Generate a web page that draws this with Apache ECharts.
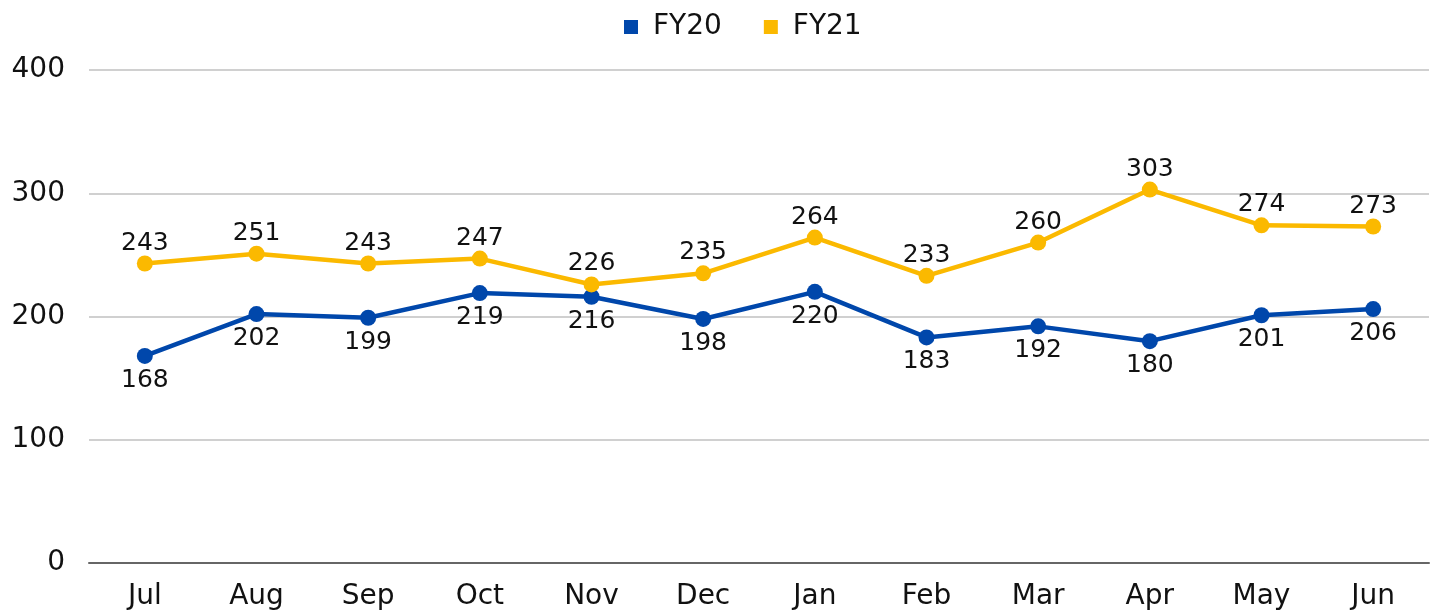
<!DOCTYPE html>
<html>
<head>
<meta charset="utf-8">
<script src="https://cdn.jsdelivr.net/npm/echarts@6/dist/echarts.min.js"></script>
<style>
  html, body { margin: 0; padding: 0; background: #fff; }
  #chart { width: 1435px; height: 611px; }
</style>
</head>
<body>
<div id="chart"></div>
<script>
// months on the x axis
var months = ['Jul', 'Aug', 'Sep', 'Oct', 'Nov', 'Dec', 'Jan', 'Feb', 'Mar', 'Apr', 'May', 'Jun'];
// series values
var fy20 = [168, 202, 199, 219, 216, 198, 220, 183, 192, 180, 201, 206];
var fy21 = [243, 251, 243, 247, 226, 235, 264, 233, 260, 303, 274, 273];

var FONT = 'DejaVu Sans';

$chart = echarts.init(document.getElementById('chart'));
var option = {
    textStyle: { fontFamily: FONT },
    legend: {
        top: 8,
        left: 619,
        icon: 'rect',
        itemWidth: 14,
        itemHeight: 14,
        itemGap: 42,
        textStyle: { fontSize: 28, color: '#111', fontFamily: FONT, padding: [0, 0, 0, 10] },
        data: ['FY20', 'FY21']
    },
    grid: {
        left: 89,
        right: 6,
        top: 70,
        bottom: 48
    },
    xAxis: {
        type: 'category',
        data: months,
        axisLine: { lineStyle: { color: '#666', width: 2 } },
        axisTick: { show: false },
        axisLabel: { color: '#111', fontSize: 28, margin: 20, fontFamily: FONT }
    },
    yAxis: {
        type: 'value',
        min: 0,
        max: 400,
        interval: 100,
        axisLine: { show: false },
        axisTick: { show: false },
        splitLine: { lineStyle: { color: '#c0c0c0', width: 1.5 } },
        axisLabel: { color: '#111', fontSize: 28, margin: 24, fontFamily: FONT }
    },
    series: [
        {
            name: 'FY20',
            type: 'line',
            data: fy20,
            color: '#0047AB',
            symbol: 'circle',
            symbolSize: 16,
            lineStyle: { width: 4.5 },
            label: { show: true, position: 'bottom', distance: 4, fontSize: 25, color: '#111', fontFamily: FONT }
        },
        {
            name: 'FY21',
            type: 'line',
            data: fy21,
            color: '#FBB900',
            symbol: 'circle',
            symbolSize: 16,
            lineStyle: { width: 4.5 },
            label: { show: true, position: 'top', distance: 0, fontSize: 25, color: '#111', fontFamily: FONT }
        }
    ]
};
$chart.setOption(option);
</script>
</body>
</html>
